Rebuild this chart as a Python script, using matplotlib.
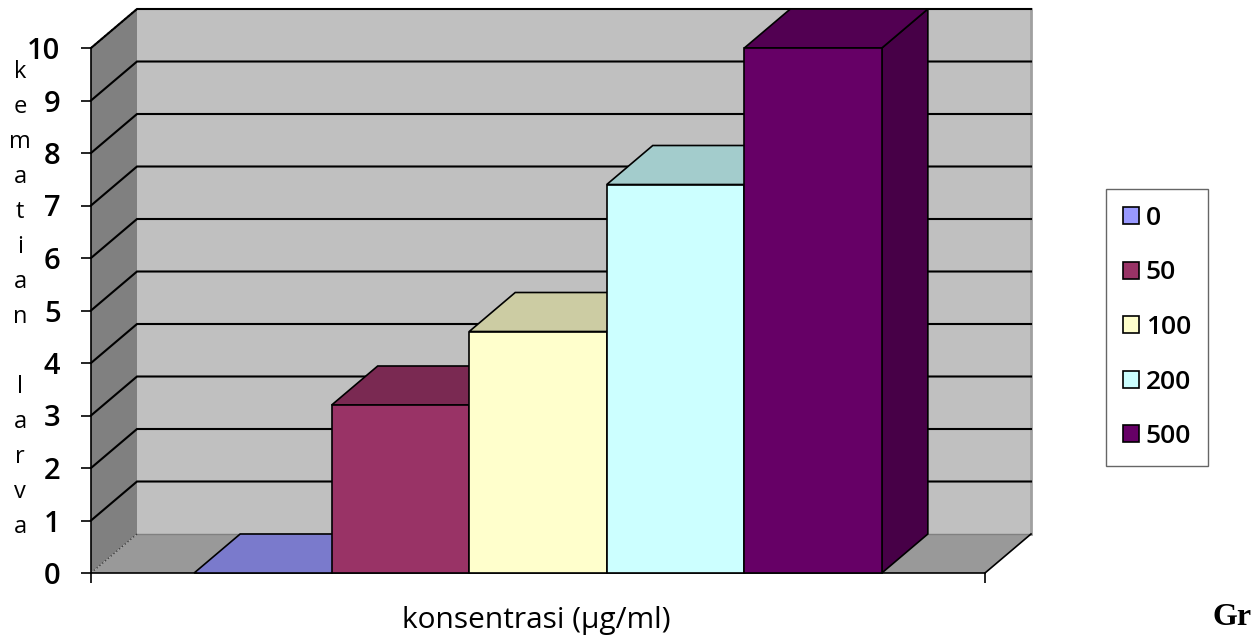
#!/usr/bin/python3

import matplotlib.pyplot as plt
from matplotlib.patches import Polygon, Patch
import matplotlib.colors as mcolors

# kematian larva per konsentrasi
konsentrasi = ["0", "50", "100", "200", "500"]
kematian = [0, 3.2, 4.6, 7.4, 10]
warna = ["#9999FF", "#993366", "#FFFFCC", "#CCFFFF", "#660066"]
yticks = list(range(0, 11))

plt.rcParams['font.family'] = ['Open Sans', 'DejaVu Sans']

fig = plt.figure(figsize=(12.55, 6.36), dpi=100)
ax = fig.add_axes([91 / 1255, 63 / 636, 894 / 1255, 525 / 636])

xmin, xmax = -1.25, len(kematian) - 1 + 1.25
ymin, ymax = 0, 10
ax.set_xlim(xmin, xmax)
ax.set_ylim(ymin, ymax)

# depth of the 3d box in data units
DX = 46 / (894 / (xmax - xmin))
DY = 39 / (525 / (ymax - ymin))


def face(pts, color, z, ec="none", lw=0):
    p = Polygon(pts, closed=True, facecolor=color, edgecolor=ec, linewidth=lw,
                zorder=z, clip_on=False)
    ax.add_patch(p)


def shade(c, f):
    r, g, b = mcolors.to_rgb(c)
    return (r * f, g * f, b * f)


# walls and floor
face([(xmin + DX, DY), (xmax + DX, DY), (xmax + DX, ymax + DY), (xmin + DX, ymax + DY)], "#C0C0C0", 0.5)
face([(xmin, 0), (xmin + DX, DY), (xmin + DX, ymax + DY), (xmin, ymax)], "#808080", 0.6)
face([(xmin, 0), (xmax, 0), (xmax + DX, DY), (xmin + DX, DY)], "#999999", 0.6)

ax.plot([xmax + DX, xmax + DX], [DY, ymax + DY], color="#A0A0A0", lw=2, zorder=0.7, clip_on=False)
ax.plot([xmin + DX, xmax + DX], [DY, DY], color="#808080", lw=1, zorder=0.7, clip_on=False)
ax.plot([xmax, xmax + DX], [0, DY], color="black", lw=1.2, zorder=0.7, clip_on=False)
ax.plot([xmin, xmin + DX], [0, DY], color="#404040", lw=1, ls=":", zorder=0.7, clip_on=False)
ax.plot([xmin, xmin + DX], [ymax, ymax + DY], color="black", lw=1.2, ls=":", zorder=0.7, clip_on=False)

# gridlines across side wall and back wall
for v in yticks[1:]:
    ax.plot([xmin, xmin + DX, xmax + DX], [v, v + DY, v + DY], color="black", lw=1.5,
            zorder=0.8, clip_on=False, solid_joinstyle="miter")

# bars as boxes: side, top, front
for i, (v, c) in enumerate(zip(kematian, warna)):
    x0, x1 = i - 0.5, i + 0.5
    z = 3 + i * 0.1
    face([(x1, 0), (x1 + DX, DY), (x1 + DX, v + DY), (x1, v)], shade(c, 0.7), z, "black", 1.2)
    face([(x0, v), (x1, v), (x1 + DX, v + DY), (x0 + DX, v + DY)], shade(c, 0.8), z + 0.01, "black", 1.2)
    if v > 0:
        face([(x0, 0), (x1, 0), (x1, v), (x0, v)], c, z + 0.02, "black", 1.2)

for s in ["top", "right"]:
    ax.spines[s].set_visible(False)
for s in ["left", "bottom"]:
    ax.spines[s].set_color("black")
    ax.spines[s].set_linewidth(1.2)
    ax.spines[s].set_zorder(1)

ax.set_yticks(yticks)
ax.set_yticklabels([str(t) for t in yticks], fontweight="semibold")
ax.set_xticks([xmin, xmax])
ax.set_xticklabels(["", ""])
ax.tick_params(axis="y", direction="out", length=7, width=1.2, pad=15, labelsize=21)
ax.tick_params(axis="x", direction="out", length=7, width=1.2)
ax.set_facecolor("none")

# vertical axis title, one letter per row
ylab = "kematian larva"
top_px, step_px = 72, 35
for row, ch in enumerate(ylab):
    if ch != " ":
        fig.text(20 / 1255, 1 - (top_px + row * step_px) / 636, ch, fontsize=17,
                 ha="center", va="center")

fig.text(536 / 1255, (636 - 628) / 636, "konsentrasi (\u00b5g/ml)", fontsize=21.5,
         ha="center", va="baseline")

fig.text(1212 / 1255, (636 - 625) / 636, "Gr", fontsize=23, fontweight="bold",
         family="Liberation Serif", ha="left", va="baseline")

handles = [Patch(facecolor=c, edgecolor="black", linewidth=1.2) for c in warna]
leg = fig.legend(handles, konsentrasi, loc="center left", bbox_to_anchor=(1106 / 1255, 0.485),
                 prop={"size": 19, "weight": "semibold"}, frameon=True, fancybox=False,
                 handlelength=0.6, handleheight=0.6, handletextpad=0.25, labelspacing=1.12,
                 borderpad=0.65, borderaxespad=0)
leg.get_frame().set_edgecolor("#404040")
leg.get_frame().set_linewidth(1)

plt.savefig("out.png", dpi=100)
